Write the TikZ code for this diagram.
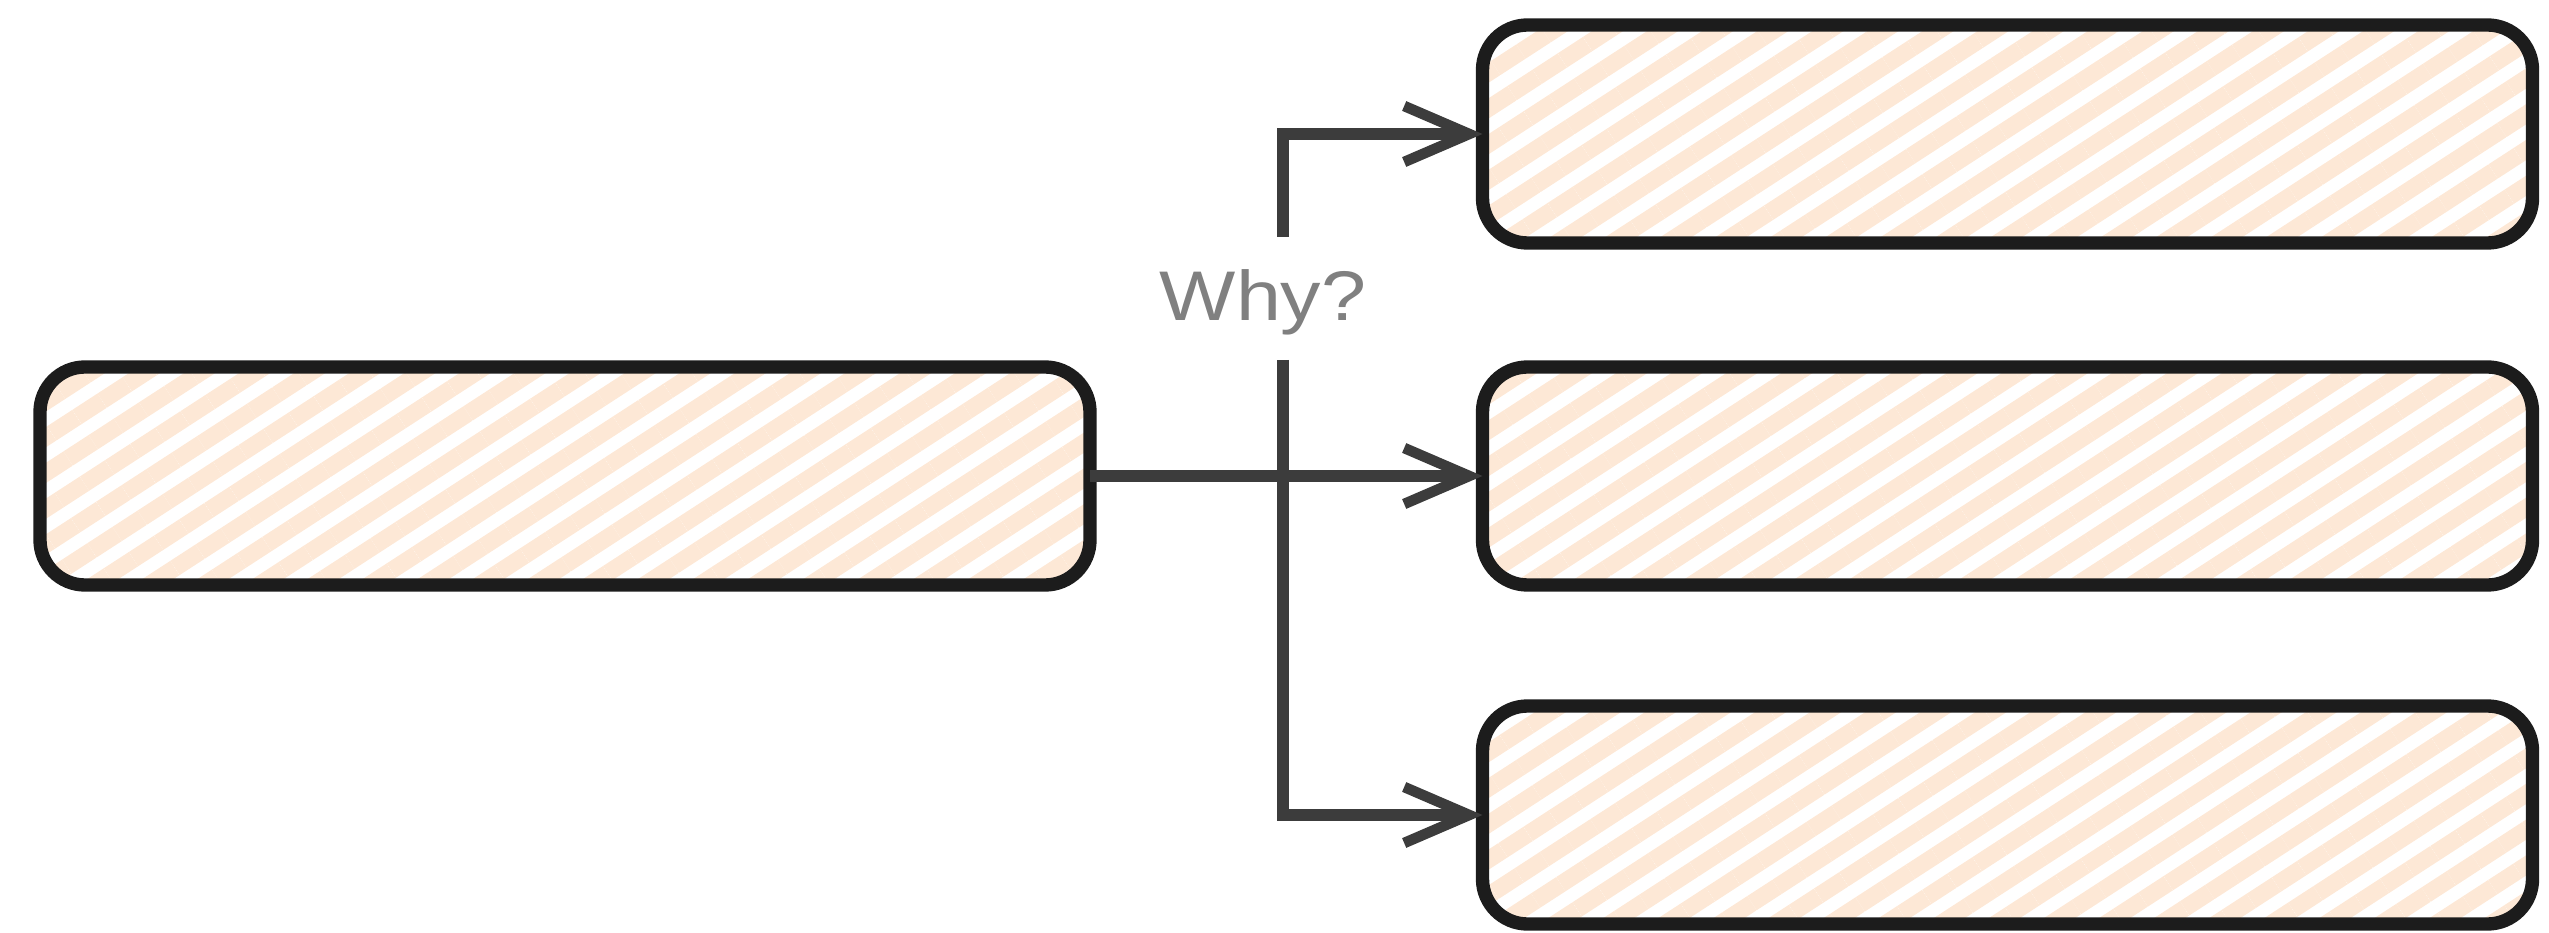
\documentclass[tikz,border=0pt]{standalone}
\usepackage{fontspec}
\setmainfont{Liberation Sans}
\usetikzlibrary{arrows.meta,patterns.meta}
\definecolor{peach}{HTML}{FDE8D6}
\definecolor{wire}{HTML}{3C3C3C}
\definecolor{edge}{HTML}{1C1C1C}
\begin{document}
\begin{tikzpicture}[
  causebox/.style={draw=edge, line width=3.8pt, rounded corners=0.45cm,
    pattern={Lines[angle=33, distance=3mm, line width=1.7mm]}, pattern color=peach,
    minimum width=10.5cm, minimum height=2.18cm, outer sep=0pt},
  conn/.style={draw=wire, line width=3.2pt, -{Straight Barb[length=6.5mm, width=5.6mm, line width=3pt]}}]
\useasboundingbox (0,0) rectangle (25.49,9.32);
\node[causebox] (effect) at (5.65,4.56) {};
\node[causebox] (causeA) at (20.075,7.98) {};
\node[causebox] (causeB) at (20.075,4.56) {};
\node[causebox] (causeC) at (20.075,1.17) {};
\coordinate (gapTop) at (12.83,6.95);
\coordinate (gapBot) at (12.83,5.72);
\node[text=gray, font=\fontsize{20}{24}\selectfont, xscale=1.15] (why) at (12.63,6.3) {Why?};
\draw[conn] (effect.east) -- (causeB.west);
\draw[conn] (gapTop) |- (causeA.west);
\draw[conn] (gapBot) |- (causeC.west);
\end{tikzpicture}
\end{document}
